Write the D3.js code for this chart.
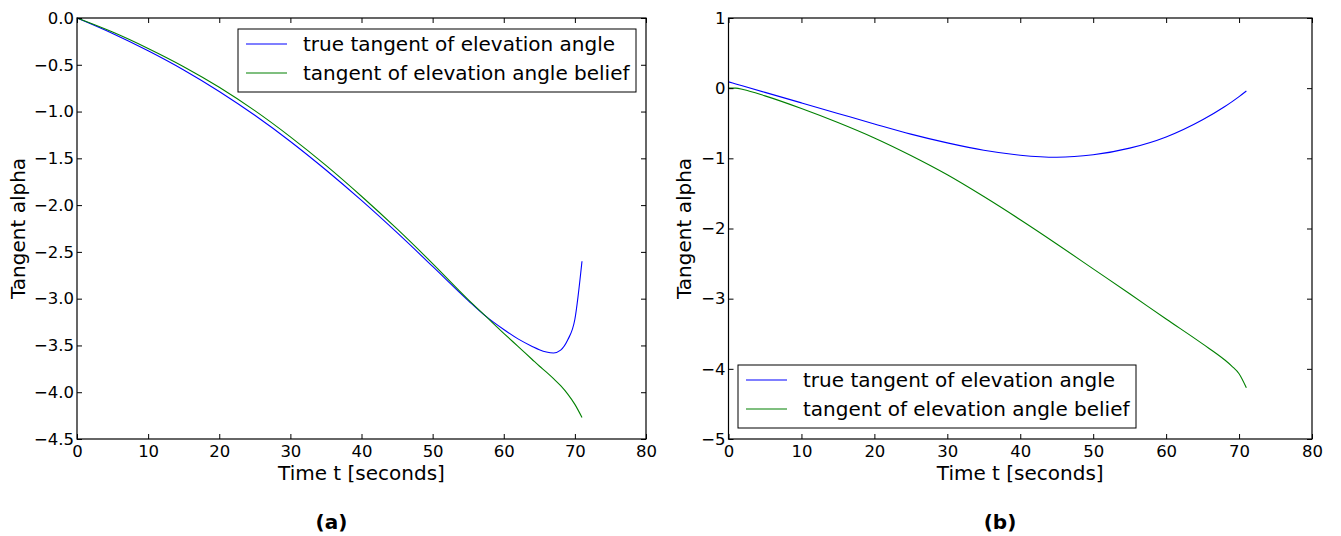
<!DOCTYPE html>
<html>
<head>
<meta charset="utf-8">
<script src="https://cdn.jsdelivr.net/npm/d3@7"></script>
<style>
  html, body { margin: 0; padding: 0; background: #fff; }
  svg { display: block; font-family: "DejaVu Sans", sans-serif; }
</style>
</head>
<body>
<svg id="chart" width="1341" height="536"></svg>
<script>
// Panel (a): elevation-angle tangent, sampled in seconds
const timeA = [0, 5, 10, 15, 20, 25, 30, 35, 40, 45, 50, 55, 57.5, 60, 62, 64, 65, 66, 67, 68, 69, 70, 71];
const trueA = [0, -0.165, -0.35, -0.555, -0.785, -1.04, -1.32, -1.625, -1.95, -2.295, -2.655, -3.02, -3.19,
               -3.33, -3.43, -3.51, -3.545, -3.57, -3.58, -3.55, -3.44, -3.22, -2.60];
const beliefA = [0, -0.15, -0.325, -0.52, -0.74, -0.99, -1.27, -1.575, -1.905, -2.255, -2.625, -3.01, -3.19,
                 -3.37, -3.51, -3.65, -3.72, -3.785, -3.855, -3.93, -4.02, -4.13, -4.27];

// Panel (b)
const timeB = [0, 1, 2, 5, 10, 15, 20, 25, 30, 35, 40, 45, 50, 55, 60, 65, 68, 69, 70, 71];
const trueB = [0.09, 0.06, 0.03, -0.06, -0.21, -0.36, -0.51, -0.655, -0.78, -0.885, -0.955, -0.985, -0.95,
               -0.855, -0.695, -0.45, -0.265, -0.195, -0.12, -0.04];
const beliefB = [0, 0, -0.02, -0.11, -0.29, -0.49, -0.71, -0.96, -1.235, -1.545, -1.875, -2.22, -2.575,
                 -2.93, -3.29, -3.645, -3.87, -3.96, -4.07, -4.27];

const xTicks = [0, 10, 20, 30, 40, 50, 60, 70, 80];
const yTicksA = [0, -0.5, -1, -1.5, -2, -2.5, -3, -3.5, -4, -4.5];
const yTicksB = [1, 0, -1, -2, -3, -4, -5];

const seriesNames = ["true tangent of elevation angle", "tangent of elevation angle belief"];
const seriesColors = ["#0000ff", "#008000"];

const svg = d3.select("#chart");

function panel(opts) {
  const { left, right, top, bottom, yDomain, yTicks, yFmt, t, series, legendPos, tag, tagX, yLabelX } = opts;
  const x = d3.scaleLinear().domain([0, 80]).range([left, right]);
  const y = d3.scaleLinear().domain(yDomain).range([bottom, top]);
  const g = svg.append("g");
  const tickLen = 5;

  // data lines
  const line = d3.line()
    .x(d => x(d[0]))
    .y(d => y(d[1]))
    .curve(d3.curveMonotoneX);
  series.forEach((vals, i) => {
    g.append("path")
      .datum(t.map((tt, k) => [tt, vals[k]]))
      .attr("d", line)
      .attr("fill", "none")
      .attr("stroke", seriesColors[i])
      .attr("stroke-width", 1.1);
  });

  // inward ticks on all four sides
  const xb = d3.axisBottom(x).tickValues(xTicks).tickSize(-tickLen).tickPadding(6).tickFormat(d3.format("d"));
  const xt = d3.axisTop(x).tickValues(xTicks).tickSize(-tickLen).tickFormat("");
  const yl = d3.axisLeft(y).tickValues(yTicks).tickSize(-tickLen).tickPadding(3).tickFormat(d3.format(yFmt));
  const yr = d3.axisRight(y).tickValues(yTicks).tickSize(-tickLen).tickFormat("");

  const axes = [
    g.append("g").attr("transform", `translate(0,${bottom})`).call(xb),
    g.append("g").attr("transform", `translate(0,${top})`).call(xt),
    g.append("g").attr("transform", `translate(${left},0)`).call(yl),
    g.append("g").attr("transform", `translate(${right},0)`).call(yr)
  ];
  axes.forEach(a => {
    a.select(".domain").remove();
    a.selectAll(".tick line").attr("stroke", "#000").attr("stroke-width", 1);
    a.selectAll(".tick text").attr("fill", "#000").style("font-size", "16.5px")
      .style("font-family", "'DejaVu Sans', sans-serif");
  });

  // frame
  g.append("rect")
    .attr("x", left).attr("y", top)
    .attr("width", right - left).attr("height", bottom - top)
    .attr("fill", "none").attr("stroke", "#000").attr("stroke-width", 1.2);

  // axis titles
  g.append("text")
    .attr("x", (left + right) / 2).attr("y", 480)
    .attr("text-anchor", "middle").style("font-size", "20px")
    .text("Time t [seconds]");
  g.append("text")
    .attr("transform", `translate(${yLabelX},${(top + bottom) / 2}) rotate(-90)`)
    .attr("text-anchor", "middle").style("font-size", "20px")
    .text("Tangent alpha");

  // legend
  const lg = g.append("g").attr("transform", `translate(${legendPos[0]},${legendPos[1]})`);
  lg.append("rect").attr("width", 398).attr("height", 63)
    .attr("fill", "#fff").attr("stroke", "#000").attr("stroke-width", 1);
  seriesNames.forEach((name, i) => {
    const yy = 15 + i * 29;
    lg.append("line").attr("x1", 8).attr("x2", 49).attr("y1", yy).attr("y2", yy)
      .attr("stroke", seriesColors[i]).attr("stroke-width", 1.1);
    lg.append("text").attr("x", 65).attr("y", yy + 7).style("font-size", "20px").text(name);
  });

  // panel tag
  svg.append("text").attr("x", tagX).attr("y", 529)
    .attr("text-anchor", "middle").style("font-size", "20px").style("font-weight", "bold")
    .text(tag);
}

panel({
  left: 77, right: 646, top: 18, bottom: 439,
  yDomain: [-4.5, 0], yTicks: yTicksA, yFmt: ".1f",
  t: timeA, series: [trueA, beliefA],
  legendPos: [238, 29], tag: "(a)", tagX: 331.5, yLabelX: 25
});

panel({
  left: 728.5, right: 1312, top: 18, bottom: 439,
  yDomain: [-5, 1], yTicks: yTicksB, yFmt: "d",
  t: timeB, series: [trueB, beliefB],
  legendPos: [738, 365], tag: "(b)", tagX: 1000, yLabelX: 691
});
</script>
</body>
</html>
